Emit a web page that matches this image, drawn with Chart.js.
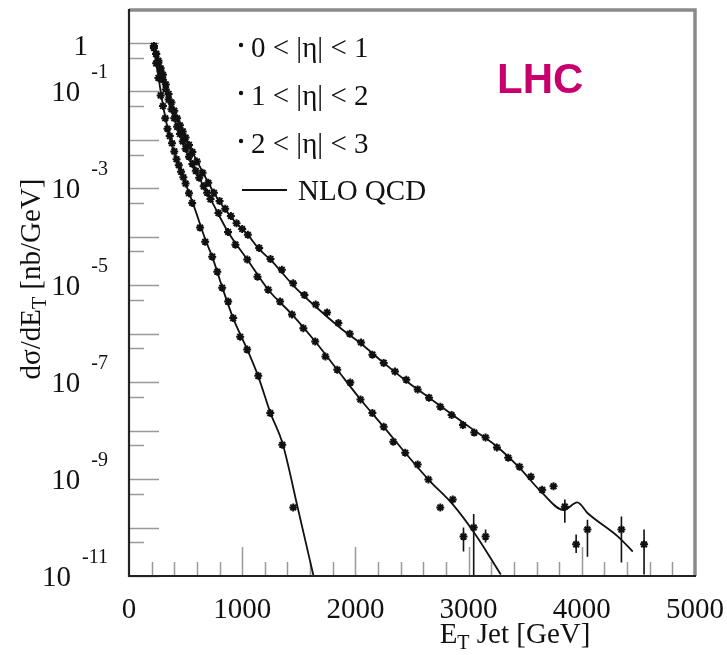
<!DOCTYPE html>
<html>
<head>
<meta charset="utf-8">
<script src="https://cdn.jsdelivr.net/npm/chart.js@4.4.0/dist/chart.umd.min.js"></script>
<style>
  html, body { margin: 0; padding: 0; background: #fff; }
</style>
</head>
<body>
<canvas id="jets" width="727" height="655"></canvas>
<script>
// jet E_T [GeV] and dsigma/dE_T [nb/GeV]
const eta01E = [220, 240, 260, 280, 300, 325, 350, 375, 400, 425, 450, 475, 500, 530, 560, 600, 650, 700, 750, 800,
  850, 900, 950, 1000, 1050, 1150, 1250, 1350, 1450, 1550, 1650, 1750, 1850, 1950, 2050, 2150, 2250, 2350, 2450, 2550,
  2650, 2750, 2850, 2950, 3050, 3150, 3250, 3350, 3450, 3550, 3650, 3750, 3850, 3950, 4050, 4350, 4550];
const eta01Y = [8.7e-1, 6.0e-1, 4.3e-1, 3.0e-1, 2.2e-1, 1.4e-1, 8.9e-2, 5.9e-2, 4.0e-2, 2.8e-2, 2.0e-2, 1.5e-2, 1.12e-2,
  7.9e-3, 5.6e-3, 3.6e-3, 2.1e-3, 1.3e-3, 8.1e-4, 5.5e-4, 3.8e-4, 2.7e-4, 1.9e-4, 1.45e-4, 1.1e-4, 5.9e-5, 3.5e-5,
  2.1e-5, 1.1e-5, 6.3e-6, 4.0e-6, 2.75e-6, 1.66e-6, 1.0e-6, 6.6e-7, 3.7e-7, 2.5e-7, 1.66e-7, 1.12e-7, 7.1e-8, 4.8e-8,
  3.1e-8, 2.1e-8, 1.3e-8, 9.1e-9, 7.2e-9, 4.5e-9, 2.75e-9, 1.8e-9, 1.12e-9, 6.0e-10, 7.1e-10, 2.7e-10, 4.5e-11,
  9.1e-11, 9.1e-11, 4.5e-11];

const eta12E = [220, 240, 260, 280, 300, 325, 350, 375, 400, 425, 450, 475, 500, 530, 560, 590, 620, 660, 690, 720,
  790, 875, 940, 1045, 1135, 1230, 1335, 1440, 1540, 1645, 1735, 1840, 1955, 2045, 2150, 2250, 2335, 2440, 2550, 2645,
  2750, 2860, 2955, 3045, 3150];
const eta12Y = [8.7e-1, 5.9e-1, 3.9e-1, 2.6e-1, 1.74e-1, 1.1e-1, 6.8e-2, 4.3e-2, 2.8e-2, 1.86e-2, 1.32e-2, 9.3e-3,
  6.6e-3, 4.5e-3, 3.2e-3, 2.3e-3, 1.66e-3, 1.1e-3, 8.1e-4, 6.0e-4, 3.1e-4, 1.26e-4, 6.9e-5, 3.4e-5, 1.5e-5, 8.1e-6,
  4.6e-6, 2.5e-6, 1.3e-6, 6.9e-7, 3.4e-7, 1.8e-7, 9.8e-8, 4.4e-8, 2.3e-8, 1.2e-8, 5.9e-9, 3.5e-9, 2.0e-9, 9.8e-10,
  2.6e-10, 3.8e-10, 6.5e-11, 1.0e-10, 6.5e-11];

const eta23E = [220, 240, 260, 280, 300, 320, 340, 360, 380, 400, 420, 440, 460, 480, 500, 530, 558, 628, 673, 735,
  780, 823, 876, 920, 982, 1044, 1142, 1248, 1354, 1451];
const eta23Y = [7.9e-1, 3.8e-1, 1.9e-1, 8.3e-2, 5.0e-2, 2.8e-2, 1.7e-2, 1.2e-2, 8.5e-3, 5.8e-3, 4.0e-3, 3.0e-3, 2.2e-3,
  1.7e-3, 1.26e-3, 7.9e-4, 5.0e-4, 1.55e-4, 7.9e-5, 3.9e-5, 1.9e-5, 8.9e-6, 4.6e-6, 2.1e-6, 8.7e-7, 4.7e-7, 1.35e-7,
  2.3e-8, 5.1e-9, 2.6e-10];

// error bars on the sparse high-E points
const eta01ErrE = [3850, 3950, 4050, 4350, 4550];
const eta01ErrHi = [3.8e-10, 7.2e-11, 1.45e-10, 1.7e-10, 9.1e-11];
const eta01ErrLo = [1.26e-10, 3.0e-11, 2.5e-11, 1.9e-11, 1.07e-11];
const eta12ErrE = [2955, 3045, 3150];
const eta12ErrHi = [1.0e-10, 1.9e-10, 9.1e-11];
const eta12ErrLo = [3.2e-11, 1.0e-11, 4.9e-11];

// NLO QCD curves
const nlo01E = [210, 255, 300, 320, 380, 470, 560, 650, 760, 940, 1050, 1140, 1270, 1450, 1650, 1870, 2040, 2250, 2440,
  2650, 2860, 3040, 3260, 3440, 3650, 3840, 3960, 4050, 4320, 4450];
const nlo01Y = [1.0, 4.5e-1, 2.2e-1, 1.6e-1, 5.2e-2, 1.6e-2, 5.6e-3, 2.2e-3, 7.4e-4, 2.0e-4, 1.1e-4, 5.9e-5, 3.0e-5,
  1.0e-5, 3.6e-6, 1.3e-6, 6.5e-7, 2.5e-7, 1.1e-7, 4.8e-8, 2.1e-8, 1.05e-8, 4.5e-9, 1.8e-9, 5.2e-10, 2.3e-10, 3.3e-10,
  2.0e-10, 6.5e-11, 3.2e-11];
const nlo12E = [210, 255, 300, 360, 435, 520, 630, 735, 875, 1045, 1230, 1440, 1645, 1840, 2045, 2250, 2440, 2645, 2860,
  3060, 3285];
const nlo12Y = [1.0, 4.1e-1, 1.74e-1, 5.2e-2, 1.6e-2, 4.9e-3, 1.5e-3, 5.2e-4, 1.26e-4, 3.4e-5, 8.1e-6, 2.5e-6, 6.9e-7,
  1.8e-7, 4.4e-8, 1.2e-8, 3.5e-9, 9.8e-10, 3.0e-10, 7.2e-11, 1.07e-11];
const nlo23E = [210, 257, 300, 345, 415, 495, 585, 675, 735, 825, 920, 1045, 1140, 1250, 1355, 1490, 1630];
const nlo23Y = [1.0, 2.2e-1, 5.2e-2, 1.6e-2, 4.3e-3, 1.35e-3, 3.6e-4, 8.7e-5, 3.9e-5, 8.9e-6, 2.1e-6, 4.7e-7, 1.35e-7,
  2.3e-8, 5.6e-9, 2.6e-10, 1.0e-11];

// axis ticks and labels
const xMajorTicks = [1000, 2000, 3000, 4000];
const xMinorTicks = [200, 400, 600, 800, 1200, 1400, 1600, 1800, 2200, 2400, 2600, 2800, 3200, 3400, 3600, 3800,
  4200, 4400, 4600, 4800];
const xTickLabels = [0, 1000, 2000, 3000, 4000, 5000];
const yMajorTicks = [1, 1e-1, 1e-2, 1e-3, 1e-4, 1e-5, 1e-6, 1e-7, 1e-8, 1e-9, 1e-10, 1e-11];
const yMinorTicks = [5e-1, 5e-2, 5e-3, 5e-4, 5e-5, 5e-6, 5e-7, 5e-8, 5e-9, 5e-10, 5e-11];
const yLabelValues = [1e-1, 1e-3, 1e-5, 1e-7, 1e-9, 1e-11];
const yLabelExps = ['-1', '-3', '-5', '-7', '-9', '-11'];
const legendLabels = ['0 < |η| < 1', '1 < |η| < 2', '2 < |η| < 3'];

const SERIF = '"Liberation Serif", "DejaVu Serif", serif';

function pts(xs, ys) {
  return xs.map((e, i) => ({ x: e, y: ys[i] }));
}
// vertical segments separated by gaps
function bars(xs, hi, lo) {
  const out = [];
  xs.forEach((e, i) => {
    out.push({ x: e, y: hi[i] }, { x: e, y: lo[i] }, { x: e, y: null });
  });
  return out;
}

function curve(xs, ys) {
  return {
    data: pts(xs, ys),
    borderColor: '#111',
    borderWidth: 1.8,
    pointRadius: 0,
    cubicInterpolationMode: 'monotone',
    order: 3
  };
}
function markers(xs, ys) {
  return {
    data: pts(xs, ys),
    showLine: false,
    pointStyle: 'star',
    pointRadius: 4,
    borderColor: '#111',
    backgroundColor: '#111',
    pointBorderWidth: 2,
    order: 1
  };
}
function errors(xs, hi, lo) {
  return {
    data: bars(xs, hi, lo),
    borderColor: '#111',
    borderWidth: 1.6,
    pointRadius: 0,
    spanGaps: false,
    order: 2
  };
}

const frame = {
  id: 'frame',
  beforeDatasetsDraw(chart) {
    const { ctx, chartArea: a, scales: { x, y } } = chart;
    ctx.save();
    ctx.strokeStyle = '#999';
    ctx.lineWidth = 1.5;
    ctx.beginPath();
    yMajorTicks.forEach(v => {
      const py = Math.round(y.getPixelForValue(v)) + 0.5;
      ctx.moveTo(a.left, py); ctx.lineTo(a.left + 30, py);
    });
    yMinorTicks.forEach(v => {
      const py = Math.round(y.getPixelForValue(v)) + 0.5;
      ctx.moveTo(a.left, py); ctx.lineTo(a.left + 15, py);
    });
    xMajorTicks.forEach(v => {
      const px = Math.round(x.getPixelForValue(v)) + 0.5;
      ctx.moveTo(px, a.bottom); ctx.lineTo(px, a.bottom - 29);
    });
    xMinorTicks.forEach(v => {
      const px = Math.round(x.getPixelForValue(v)) + 0.5;
      ctx.moveTo(px, a.bottom); ctx.lineTo(px, a.bottom - 14);
    });
    ctx.stroke();
    ctx.restore();
  },
  afterDraw(chart) {
    const { ctx, chartArea: a, scales: { x, y } } = chart;
    ctx.save();
    // frame: grey top / right, black axes
    ctx.strokeStyle = '#8a8a8a';
    ctx.lineWidth = 3.5;
    ctx.beginPath();
    ctx.moveTo(a.left, a.top); ctx.lineTo(a.right, a.top); ctx.lineTo(a.right, a.bottom);
    ctx.stroke();
    ctx.strokeStyle = '#222';
    ctx.lineWidth = 2.2;
    ctx.beginPath();
    ctx.moveTo(a.left, a.top - 1); ctx.lineTo(a.left, a.bottom); ctx.lineTo(a.right + 1, a.bottom);
    ctx.stroke();

    ctx.fillStyle = '#111';
    ctx.textBaseline = 'alphabetic';

    // x tick labels
    ctx.font = '29px ' + SERIF;
    ctx.textAlign = 'center';
    xTickLabels.forEach(v => ctx.fillText(String(v), x.getPixelForValue(v), 618));

    // y tick labels: 1 and 10^n
    ctx.textAlign = 'right';
    ctx.fillText('1', 88, y.getPixelForValue(1) + 12);
    yLabelValues.forEach((v, i) => {
      const py = y.getPixelForValue(v);
      ctx.font = '20px ' + SERIF;
      const ew = ctx.measureText(yLabelExps[i]).width;
      ctx.fillText(yLabelExps[i], 108, py - 13);
      ctx.font = '29px ' + SERIF;
      ctx.fillText('10', 108 - ew - 11, py + 10);
    });

    // x title  E_T Jet [GeV]
    drawSub(ctx, 515, 643, 'E', 'T', ' Jet [GeV]');

    // y title, rotated
    ctx.save();
    ctx.translate(40, 279);
    ctx.rotate(-Math.PI / 2);
    drawSub(ctx, 0, 0, 'dσ/dE', 'T', ' [nb/GeV]');
    ctx.restore();

    // legend
    ctx.textAlign = 'left';
    ctx.font = '29px ' + SERIF;
    const rows = [57, 105, 153];
    legendLabels.forEach((t, i) => {
      ctx.beginPath();
      ctx.arc(241, rows[i] - 12, 2.2, 0, Math.PI * 2);
      ctx.fill();
      ctx.fillText(t, 251, rows[i]);
    });
    ctx.strokeStyle = '#111';
    ctx.lineWidth = 1.8;
    ctx.beginPath();
    ctx.moveTo(242, 190); ctx.lineTo(287, 190);
    ctx.stroke();
    ctx.fillText('NLO QCD', 298, 200);

    // LHC tag
    ctx.fillStyle = '#c8006e';
    ctx.font = 'bold 42px "Liberation Sans", Arial, sans-serif';
    ctx.fillText('LHC', 497, 93);
    ctx.restore();
  }
};

// text with a subscript, centred on cx
function drawSub(ctx, cx, base, head, sub, tail) {
  ctx.textAlign = 'left';
  ctx.font = '29px ' + SERIF;
  const w1 = ctx.measureText(head).width;
  const w3 = ctx.measureText(tail).width;
  ctx.font = '20px ' + SERIF;
  const w2 = ctx.measureText(sub).width;
  let left = cx - (w1 + w2 + w3) / 2;
  ctx.font = '29px ' + SERIF;
  ctx.fillText(head, left, base);
  ctx.font = '20px ' + SERIF;
  ctx.fillText(sub, left + w1, base + 6);
  ctx.font = '29px ' + SERIF;
  ctx.fillText(tail, left + w1 + w2, base);
}

new Chart(document.getElementById('jets'), {
  type: 'line',
  data: {
    datasets: [
      curve(nlo01E, nlo01Y),
      curve(nlo12E, nlo12Y),
      curve(nlo23E, nlo23Y),
      errors(eta01ErrE, eta01ErrHi, eta01ErrLo),
      errors(eta12ErrE, eta12ErrHi, eta12ErrLo),
      markers(eta01E, eta01Y),
      markers(eta12E, eta12Y),
      markers(eta23E, eta23Y)
    ]
  },
  options: {
    responsive: false,
    animation: false,
    layout: { padding: { left: 129, top: 10, right: 32, bottom: 79 } },
    plugins: { legend: { display: false }, tooltip: { enabled: false } },
    scales: {
      x: { type: 'linear', min: 0, max: 5000, display: false },
      y: { type: 'logarithmic', min: 1e-11, max: 4.8, display: false }
    }
  },
  plugins: [frame]
});
</script>
</body>
</html>
